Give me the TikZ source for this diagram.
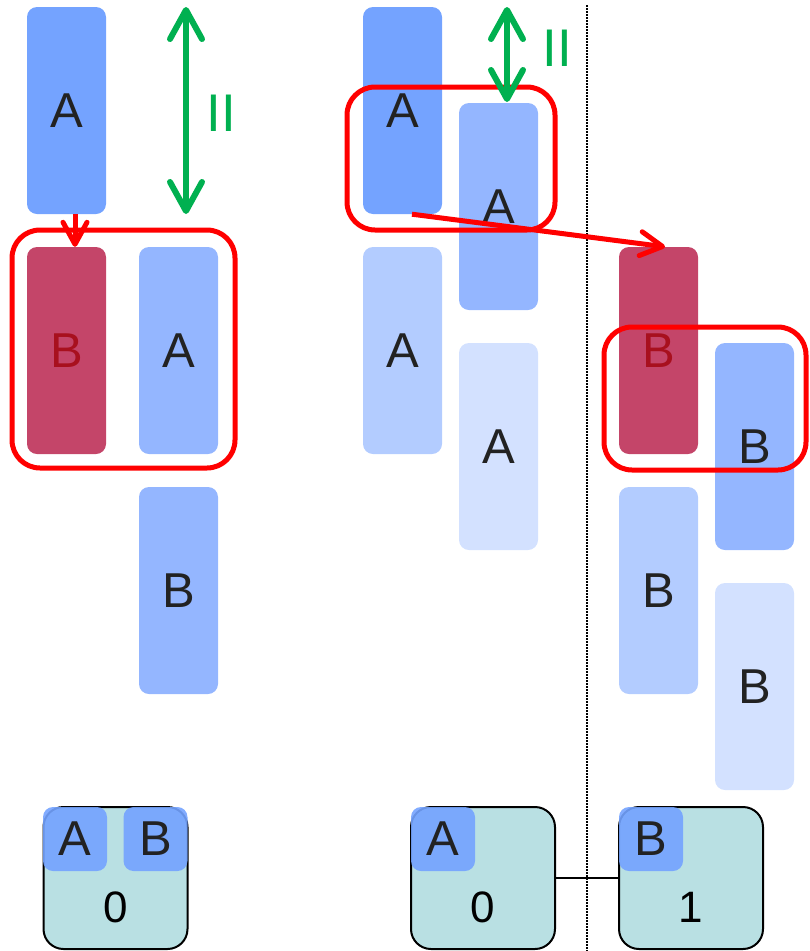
\documentclass[tikz,border=0pt]{standalone}
\usepackage{fontspec}
\setmainfont{Liberation Sans}
\usetikzlibrary{arrows.meta}

\definecolor{blueA}{HTML}{74A3FF}
\definecolor{blueB}{HTML}{94B6FF}
\definecolor{blueC}{HTML}{B3CCFF}
\definecolor{blueD}{HTML}{D3E1FF}
\definecolor{crimson}{HTML}{C44569}
\definecolor{deepred}{HTML}{A8101E}
\definecolor{slotfill}{HTML}{B9E0E3}
\definecolor{grn}{HTML}{00B050}
\definecolor{ink}{HTML}{222222}

\begin{document}
\begin{tikzpicture}[x=1pt,y=-1pt,
  bar/.style={rectangle, rounded corners=10pt, minimum width=79pt,
    minimum height=207pt, inner sep=0pt, text=ink,
    font=\fontsize{49}{56}\selectfont},
  hotbar/.style={bar, fill=crimson, text=deepred},
  slot/.style={rectangle, rounded corners=20pt, draw=black, line width=2pt,
    fill=slotfill, minimum width=144pt, minimum height=142pt, inner sep=0pt},
  tab/.style={rectangle, rounded corners=10pt, fill=blueA, fill opacity=0.9,
    text opacity=1, minimum width=64pt, minimum height=64pt, inner sep=0pt,
    text=ink, font=\fontsize{49}{56}\selectfont},
  digit/.style={inner sep=0pt, text=black, font=\fontsize{44}{50}\selectfont},
  group/.style={rectangle, rounded corners=28pt, draw=red, line width=5pt,
    inner sep=0pt},
  redarrow/.style={draw=red, line width=5pt,
    -{Straight Barb[length=22pt,width=24pt,round]}},
  spanarrow/.style={draw=grn, line width=6pt,
    {Straight Barb[length=29pt,width=32pt,round]}-{Straight Barb[length=29pt,width=32pt,round]}},
  eqmark/.style={inner sep=0pt, text=grn, font=\fontsize{53}{60}\selectfont}
]
\useasboundingbox (0,0) rectangle (810,951);

% ---- first layout ----
\node[bar, fill=blueA] (a1) at (66.5,110.5) {A};
\node[hotbar] (b1) at (66.5,350.5) {B};
\node[bar, fill=blueB] (a1s) at (178.5,350.5) {A};
\node[bar, fill=blueB] (b1s) at (178.5,590.5) {B};

% ---- second layout ----
\node[bar, fill=blueA] (a2) at (402.5,110.5) {A};
\node[bar, fill=blueB] (a2b) at (498.5,206.5) {A};
\node[bar, fill=blueC] (a2c) at (402.5,350.5) {A};
\node[bar, fill=blueD] (a2d) at (498.5,446.5) {A};

\node[hotbar] (b3) at (658.5,350.5) {B};
\node[bar, fill=blueB] (b3b) at (754.5,446.5) {B};
\node[bar, fill=blueC] (b3c) at (658.5,590.5) {B};
\node[bar, fill=blueD] (b3d) at (754.5,686.5) {B};

% ---- separator ----
\coordinate (sepT) at (587,5);
\coordinate (sepB) at (587,951);
\draw[line width=1.5pt, dash pattern=on 1.5pt off 1.5pt] (sepT) -- (sepB);

% ---- slots ----
\node[slot] (k1) at (115.5,878) {};
\node[tab] (k1a) at (75,839) {A};
\node[tab] (k1b) at (155.5,839) {B};
\node[digit] (n1) at (115.5,907.5) {0};

\node[slot] (k2) at (483,878) {};
\node[tab] (k2a) at (443,839) {A};
\node[digit] (n2) at (483,907.5) {0};

\node[slot] (k3) at (691,878) {};
\node[tab] (k3b) at (651,839) {B};
\node[digit] (n3) at (691,907.5) {1};

\draw[line width=1.5pt] (k2.east) -- (k3.west);

% ---- groups ----
\node[group, minimum width=223pt, minimum height=238pt] (g1) at (123.5,349) {};
\node[group, minimum width=208pt, minimum height=143pt] (g2) at (451,158.5) {};
\node[group, minimum width=202pt, minimum height=143pt] (g3) at (705,398.5) {};

% ---- moves ----
\draw[redarrow] ([xshift=8.5pt]a1.south) -- ([xshift=8.5pt]b1.north);
\draw[redarrow] ([xshift=9.5pt]a2.south) -- ([xshift=6.5pt]b3.north);

% ---- spans ----
\coordinate (h1t) at (186,7);
\coordinate (h1b) at (186,214);
\coordinate (h2t) at (507,7);
\coordinate (h2b) at (507,102);
\draw[spanarrow] (h1t) -- (h1b);
\draw[spanarrow] (h2t) -- (h2b);
\node[eqmark] (e1) at (221,113.3) {II};
\node[eqmark] (e2) at (557,48.5) {II};
\end{tikzpicture}
\end{document}
